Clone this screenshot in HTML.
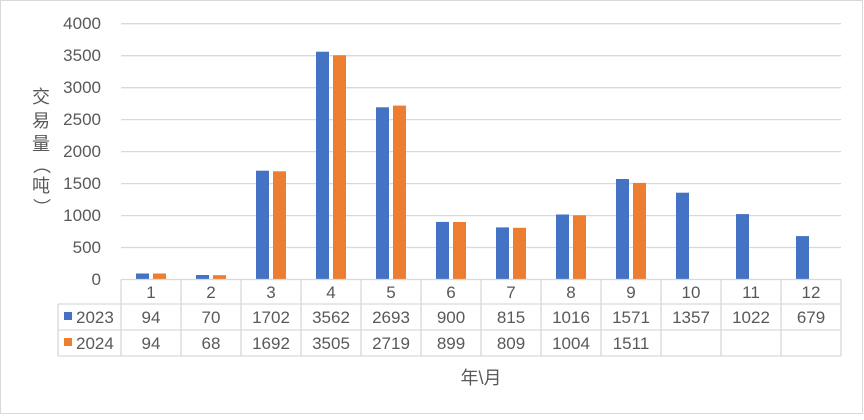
<!DOCTYPE html>
<html><head><meta charset="utf-8"><style>
body{margin:0;background:#fff}
svg text{font-family:"Liberation Sans","Noto Sans CJK SC",sans-serif;fill:#595959}
</style></head><body>
<svg width="864" height="415" viewBox="0 0 864 415" xmlns="http://www.w3.org/2000/svg">
<rect x="0.5" y="0.5" width="862" height="413" fill="#fff" stroke="#d9d9d9"/>
<g stroke="#d9d9d9" stroke-width="1.3">
<line x1="121" y1="23.7" x2="841" y2="23.7"/>
<line x1="121" y1="55.7" x2="841" y2="55.7"/>
<line x1="121" y1="87.7" x2="841" y2="87.7"/>
<line x1="121" y1="119.6" x2="841" y2="119.6"/>
<line x1="121" y1="151.6" x2="841" y2="151.6"/>
<line x1="121" y1="183.6" x2="841" y2="183.6"/>
<line x1="121" y1="215.6" x2="841" y2="215.6"/>
<line x1="121" y1="247.5" x2="841" y2="247.5"/>
</g>
<g font-size="17" text-anchor="end">
<text x="101" y="29">4000</text><text x="101" y="61">3500</text><text x="101" y="93">3000</text>
<text x="101" y="125">2500</text><text x="101" y="157">2000</text><text x="101" y="189">1500</text>
<text x="101" y="221">1000</text><text x="101" y="253">500</text><text x="101" y="285">0</text>
</g>
<g font-size="18" text-anchor="middle">
<text x="41" y="103">交</text><text x="41" y="127">易</text><text x="41" y="150">量</text>
<text x="41" y="171" transform="rotate(90 41 165)">（</text>
<text x="41" y="192">吨</text>
<text x="41" y="213" transform="rotate(90 41 207)">）</text>
</g>
<g fill="#4472c4">
<rect x="136" y="273.5" width="13" height="6"/>
<rect x="196" y="275" width="13" height="4.5"/>
<rect x="256" y="170.7" width="13" height="108.8"/>
<rect x="316" y="51.7" width="13" height="227.8"/>
<rect x="376" y="107.3" width="13" height="172.2"/>
<rect x="436" y="221.9" width="13" height="57.6"/>
<rect x="496" y="227.4" width="13" height="52.1"/>
<rect x="556" y="214.5" width="13" height="65"/>
<rect x="616" y="179" width="13" height="100.5"/>
<rect x="676" y="192.7" width="13" height="86.8"/>
<rect x="736" y="214.1" width="13" height="65.4"/>
<rect x="796" y="236.1" width="13" height="43.4"/>
</g>
<g fill="#ed7d31">
<rect x="153" y="273.5" width="13" height="6"/>
<rect x="213" y="275.2" width="13" height="4.3"/>
<rect x="273" y="171.3" width="13" height="108.2"/>
<rect x="333" y="55.3" width="13" height="224.2"/>
<rect x="393" y="105.6" width="13" height="173.9"/>
<rect x="453" y="222" width="13" height="57.5"/>
<rect x="513" y="227.8" width="13" height="51.7"/>
<rect x="573" y="215.3" width="13" height="64.2"/>
<rect x="633" y="182.9" width="13" height="96.6"/>
</g>
<g font-size="17" text-anchor="middle">
<text x="151" y="298">1</text><text x="211" y="298">2</text><text x="271" y="298">3</text><text x="331" y="298">4</text>
<text x="391" y="298">5</text><text x="451" y="298">6</text><text x="511" y="298">7</text><text x="571" y="298">8</text>
<text x="631" y="298">9</text><text x="691" y="298">10</text><text x="751" y="298">11</text><text x="811" y="298">12</text>
<text x="151" y="323">94</text><text x="211" y="323">70</text><text x="271" y="323">1702</text><text x="331" y="323">3562</text>
<text x="391" y="323">2693</text><text x="451" y="323">900</text><text x="511" y="323">815</text><text x="571" y="323">1016</text>
<text x="631" y="323">1571</text><text x="691" y="323">1357</text><text x="751" y="323">1022</text><text x="811" y="323">679</text>
<text x="151" y="349">94</text><text x="211" y="349">68</text><text x="271" y="349">1692</text><text x="331" y="349">3505</text>
<text x="391" y="349">2719</text><text x="451" y="349">899</text><text x="511" y="349">809</text><text x="571" y="349">1004</text>
<text x="631" y="349">1511</text>
</g>
<g stroke="#d9d9d9" stroke-width="1.3" fill="none">
<line x1="121" y1="279.5" x2="841" y2="279.5"/>
<line x1="58" y1="304" x2="841" y2="304"/>
<line x1="58" y1="330" x2="841" y2="330"/>
<line x1="58" y1="356" x2="841" y2="356"/>
<line x1="58" y1="304" x2="58" y2="356"/>
<line x1="121" y1="279.5" x2="121" y2="356"/><line x1="181" y1="279.5" x2="181" y2="356"/>
<line x1="241" y1="279.5" x2="241" y2="356"/><line x1="301" y1="279.5" x2="301" y2="356"/>
<line x1="361" y1="279.5" x2="361" y2="356"/><line x1="421" y1="279.5" x2="421" y2="356"/>
<line x1="481" y1="279.5" x2="481" y2="356"/><line x1="541" y1="279.5" x2="541" y2="356"/>
<line x1="601" y1="279.5" x2="601" y2="356"/><line x1="661" y1="279.5" x2="661" y2="356"/>
<line x1="721" y1="279.5" x2="721" y2="356"/><line x1="781" y1="279.5" x2="781" y2="356"/>
<line x1="841" y1="279.5" x2="841" y2="356"/>
</g>
<rect x="64" y="312" width="8" height="8" fill="#4472c4"/>
<rect x="64" y="338" width="8" height="8" fill="#ed7d31"/>
<text x="76" y="323" font-size="17">2023</text>
<text x="76" y="349" font-size="17">2024</text>
<text x="481" y="384" font-size="18" text-anchor="middle">年\月</text>
</svg>
</body></html>
